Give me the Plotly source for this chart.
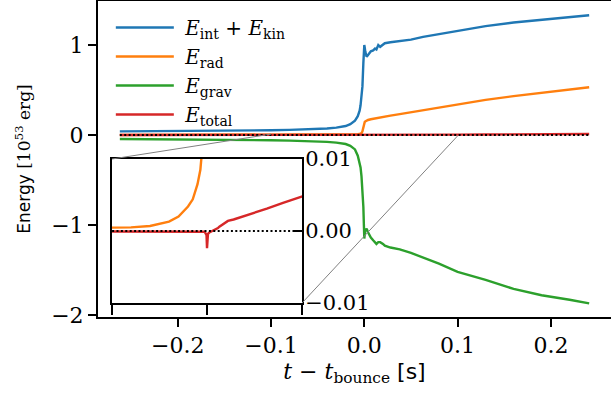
import plotly.graph_objects as go

# time relative to bounce [s]
t = [-0.262, -0.22, -0.18, -0.14, -0.10, -0.08, -0.06, -0.04, -0.03, -0.02,
     -0.015, -0.01, -0.007, -0.005, -0.004, -0.003, -0.002, -0.001, -0.0005, 0.0,
     0.0005, 0.001, 0.0025, 0.004, 0.007, 0.0095, 0.0115, 0.013, 0.015, 0.017,
     0.02, 0.022, 0.028, 0.038, 0.05, 0.063, 0.08, 0.1, 0.13, 0.16,
     0.19, 0.22, 0.241]

# energies [1e53 erg]
e_int_kin = [0.040, 0.042, 0.045, 0.048, 0.053, 0.057, 0.062, 0.072, 0.082, 0.10,
             0.12, 0.16, 0.21, 0.27, 0.33, 0.42, 0.54, 0.80, 0.92, 1.00,
             0.97, 0.93, 0.87, 0.89, 0.93, 0.94, 0.96, 0.95, 1.00, 0.98,
             1.00, 1.02, 1.03, 1.04, 1.06, 1.09, 1.12, 1.16, 1.21, 1.25,
             1.28, 1.31, 1.33]

e_rad = [0.0002, 0.00025, 0.0003, 0.00033, 0.0004, 0.0005, 0.0007, 0.0013, 0.002, 0.0034,
         0.0044, 0.0065, 0.0085, 0.011, 0.013, 0.02, 0.04, 0.09, 0.12, 0.14,
         0.145, 0.15, 0.16, 0.167, 0.175, 0.18, 0.185, 0.188, 0.192, 0.197,
         0.205, 0.208, 0.215, 0.232, 0.253, 0.277, 0.31, 0.343, 0.39, 0.432,
         0.47, 0.505, 0.53]

e_grav = [-0.045, -0.047, -0.05, -0.053, -0.058, -0.062, -0.067, -0.076, -0.085, -0.10,
          -0.12, -0.16, -0.23, -0.30, -0.36, -0.46, -0.60, -0.80, -0.98, -1.15,
          -1.10, -1.06, -1.04, -1.08, -1.14, -1.17, -1.19, -1.21, -1.19, -1.19,
          -1.21, -1.23, -1.25, -1.27, -1.31, -1.36, -1.43, -1.52, -1.61, -1.71,
          -1.78, -1.83, -1.87]

e_total = [0.0, 0.0, 0.0, 0.0, 0.0, 0.0, 0.0, 0.0, 0.0, 0.0,
           0.0, 0.0, 0.0, 0.0, 0.0, -0.0001, -0.0002, -0.0004, -0.0006, -0.0024,
           -0.0006, -0.0004, -0.0002, -0.0001, 0.0, 0.0002, 0.0004, 0.0006, 0.0008, 0.001,
           0.0013, 0.0014, 0.0016, 0.002, 0.0025, 0.0031, 0.0039, 0.0048, 0.0062, 0.0076,
           0.009, 0.0102, 0.011]

zero_line = [0.0] * len(t)

names = ["\u00a0<i>E</i><sub>int</sub> + <i>E</i><sub>kin</sub>",
         "\u00a0<i>E</i><sub>rad</sub>",
         "\u00a0<i>E</i><sub>grav</sub>",
         "\u00a0<i>E</i><sub>total</sub>"]
series = [e_int_kin, e_rad, e_grav, e_total]
colors = ["#1f77b4", "#ff7f0e", "#2ca02c", "#d62728"]

x_ticks = [-0.2, -0.1, 0.0, 0.1, 0.2]
y_ticks = [-2, -1, 0, 1]
inset_x_ticks = [-0.1, 0.0, 0.1]
inset_y_ticks = [-0.01, 0.0, 0.01]

main_xr = [-0.2854, 0.2644]
main_yr = [-2.022, 1.489]
inset_xr = [-0.1, 0.1]
inset_yr = [-0.01, 0.01]
inset_dx = [0.0273, 0.3977]
inset_dy = [0.0443, 0.5]

SERIF = "DejaVu Serif"
SANS = "DejaVu Sans"

fig = go.Figure()
for nm, s, c in zip(names, series, colors):
    fig.add_trace(go.Scatter(x=t, y=s, name=nm, mode="lines",
                             line=dict(color=c, width=2.4), xaxis="x", yaxis="y"))
fig.add_trace(go.Scatter(x=t, y=zero_line, mode="lines", showlegend=False,
                         line=dict(color="black", width=2, dash="2px,2.4px"),
                         xaxis="x", yaxis="y"))
# inset
for s, c in zip(series, colors):
    fig.add_trace(go.Scatter(x=t, y=s, mode="lines", showlegend=False,
                             line=dict(color=c, width=2.4), xaxis="x2", yaxis="y2"))
fig.add_trace(go.Scatter(x=t, y=zero_line, mode="lines", showlegend=False,
                         line=dict(color="black", width=2, dash="2px,2.4px"),
                         xaxis="x2", yaxis="y2"))

# connector lines from zoom rectangle to inset corners (main data coords)
def to_main_x(d):
    return main_xr[0] + d * (main_xr[1] - main_xr[0])

def to_main_y(d):
    return main_yr[0] + d * (main_yr[1] - main_yr[0])

conn = [((inset_xr[0], inset_yr[1]), (to_main_x(inset_dx[0]), to_main_y(inset_dy[1]))),
        ((inset_xr[1], inset_yr[0]), (to_main_x(inset_dx[1]), to_main_y(inset_dy[0])))]
for (ax_, ay_), (bx_, by_) in conn:
    fig.add_shape(type="line", xref="x", yref="y", x0=ax_, y0=ay_, x1=bx_, y1=by_,
                  line=dict(color="#808080", width=1), layer="above")

fig.update_layout(
    width=611, height=400,
    margin=dict(l=98, r=0, t=1, b=83, autoexpand=False),
    paper_bgcolor="white", plot_bgcolor="rgba(0,0,0,0)",
    font=dict(family=SERIF, size=22, color="black"),
    showlegend=True,
    legend=dict(x=0.025, y=0.978, xanchor="left", yanchor="top", bgcolor="rgba(0,0,0,0)",
                font=dict(family=SERIF, size=20), itemwidth=58, tracegroupgap=0),
    xaxis=dict(domain=[0, 1], range=main_xr, tickvals=x_ticks, tickformat=".1f",
               showline=True, linecolor="black", linewidth=2, mirror=True,
               ticks="outside", ticklen=8, tickwidth=2, tickcolor="black",
               showgrid=False, zeroline=False, automargin=False,
               tickfont=dict(family=SERIF, size=22),
               title=dict(text="<i>t</i> − <i>t</i><sub>bounce</sub> <span style='font-family:DejaVu Sans'>[s]</span>",
                          font=dict(family=SERIF, size=22), standoff=6)),
    yaxis=dict(domain=[0, 1], range=main_yr, tickvals=y_ticks,
               showline=True, linecolor="black", linewidth=2, mirror=False,
               ticks="outside", ticklen=8, tickwidth=2, tickcolor="black",
               showgrid=False, zeroline=False, automargin=False,
               tickfont=dict(family=SERIF, size=22),
               title=dict(text="Energy <span style='font-family:DejaVu Serif'>[10<sup>53</sup> erg]</span>",
                          font=dict(family=SANS, size=17), standoff=16)),
    xaxis2=dict(domain=inset_dx, range=inset_xr, anchor="y2", tickvals=inset_x_ticks,
                showticklabels=False, showline=True, linecolor="black", linewidth=2, mirror=True,
                ticks="outside", ticklen=10, tickwidth=2, tickcolor="black",
                showgrid=False, zeroline=False, automargin=False),
    yaxis2=dict(domain=inset_dy, range=inset_yr, anchor="x2", side="right",
                tickvals=inset_y_ticks, tickformat=".2f",
                showline=True, linecolor="black", linewidth=2, mirror=True,
                ticks="inside", ticklen=9, tickwidth=2, tickcolor="black",
                showgrid=False, zeroline=False, ticklabelstandoff=-3, automargin=False,
                tickfont=dict(family=SERIF, size=21)),
)

fig.write_html("out.html", config={"displayModeBar": False},
               post_script="document.body.style.margin='0';document.body.style.overflow='hidden';")
